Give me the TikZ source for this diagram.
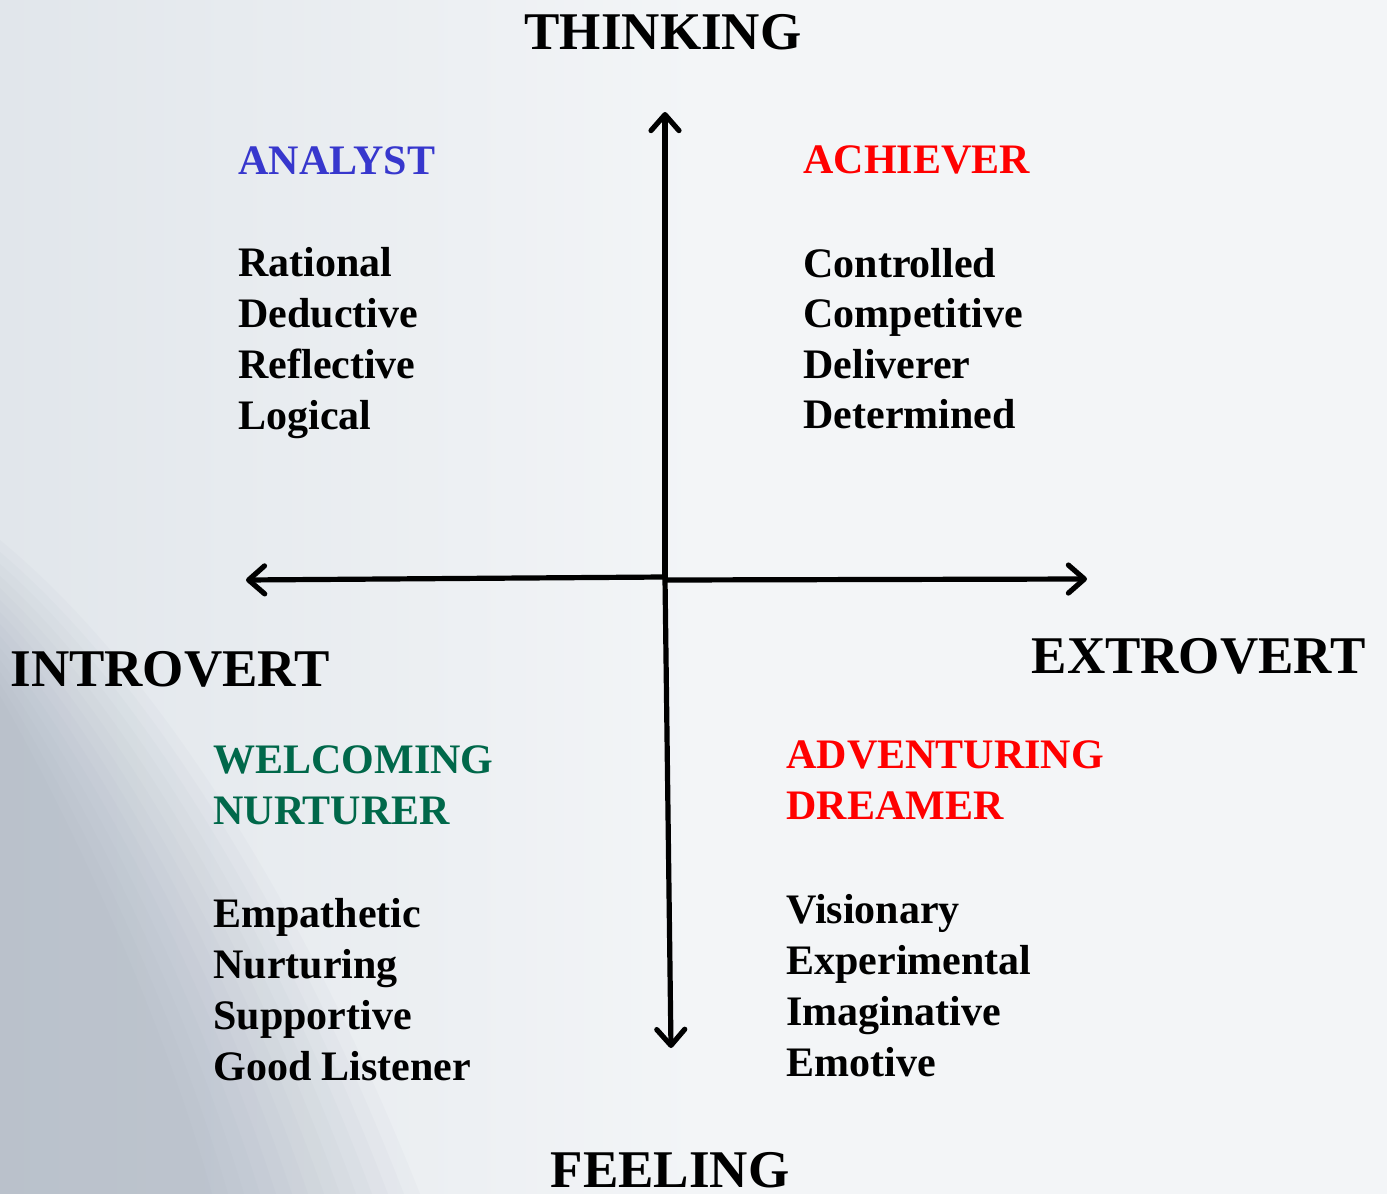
\documentclass[tikz,border=0pt]{standalone}
\usepackage{fontspec}
\setmainfont{Liberation Serif}
\usetikzlibrary{arrows.meta}
\definecolor{bgmain}{RGB}{243,245,247}
\definecolor{bgleft}{RGB}{225,230,235}
\definecolor{swoosh}{RGB}{150,160,178}
\definecolor{anblue}{RGB}{55,55,205}
\definecolor{acred}{RGB}{255,0,0}
\definecolor{wngreen}{RGB}{0,104,74}
\begin{document}
\begin{tikzpicture}[x=0.5pt,y=-0.5pt,
  head/.style={font=\fontsize{26.5pt}{30pt}\selectfont\bfseries, inner sep=0pt},
  title/.style={font=\fontsize{21pt}{25pt}\selectfont\bfseries, inner sep=0pt, anchor=base west},
  item/.style={font=\fontsize{21pt}{25pt}\selectfont\bfseries, inner sep=0pt, anchor=base west, text=black},
  axis/.style={line width=2.6pt, line cap=round, -{Straight Barb[length=8pt,width=14pt,line cap=round,line join=round]}}]
\useasboundingbox (0,0) rectangle (1387,1194);
% background
\shade[left color=bgleft, right color=bgmain] (0,0) rectangle (700,1194);
\fill[bgmain] (700,0) rectangle (1387,1194);
\foreach \k in {0,...,13}
  \fill[swoosh, opacity=0.045]
    (0,{540+\k*12}) .. controls ({170-\k*8},{680+\k*10}) and ({320-\k*12},{940+\k*6}) .. ({420-\k*16},1194) -- (0,1194) -- cycle;
% axes
\coordinate (o) at (665,578);
\coordinate (o2) at (667,580);
\coordinate (up) at (665,112);
\coordinate (down) at (671,1048);
\coordinate (lft) at (246,580);
\coordinate (rgt) at (1087,579);
\draw[axis] (o) -- (up);
\draw[axis] (o) -- (down);
\draw[axis] (664,577) coordinate (ol) -- (lft);
\draw[axis] (o2) -- (rgt);
% axis labels
\node[head, anchor=base] (thinking) at (663,49) {THINKING};
\node[head, anchor=base] (feeling) at (670,1187) {FEELING};
\node[head, anchor=base west] (introvert) at (10,686) {INTROVERT};
\node[head, anchor=base east] (extrovert) at (1366,673) {EXTROVERT};
% quadrant titles
\node[title, text=anblue] (analyst) at (238,174) {ANALYST};
\node[title, text=acred] (achiever) at (803,173) {ACHIEVER};
\node[title, text=wngreen] (welcoming) at (213,773) {WELCOMING};
\node[title, text=wngreen] (nurturer) at (213,824) {NURTURER};
\node[title, text=acred] (adventuring) at (786,768) {ADVENTURING};
\node[title, text=acred] (dreamer) at (786,819) {DREAMER};
% lists
\foreach \t [count=\i] in {Rational,Deductive,Reflective,Logical}
  \node[item] (an\i) at (238,{276+51*(\i-1)}) {\t};
\foreach \t [count=\i] in {Controlled,Competitive,Deliverer,Determined}
  \node[item] (ac\i) at (803,{277+50.5*(\i-1)}) {\t};
\foreach \t [count=\i] in {Empathetic,Nurturing,Supportive,Good Listener}
  \node[item] (wn\i) at (213,{927+51*(\i-1)}) {\t};
\foreach \t [count=\i] in {Visionary,Experimental,Imaginative,Emotive}
  \node[item] (ad\i) at (786,{923+51*(\i-1)}) {\t};
\end{tikzpicture}
\end{document}
